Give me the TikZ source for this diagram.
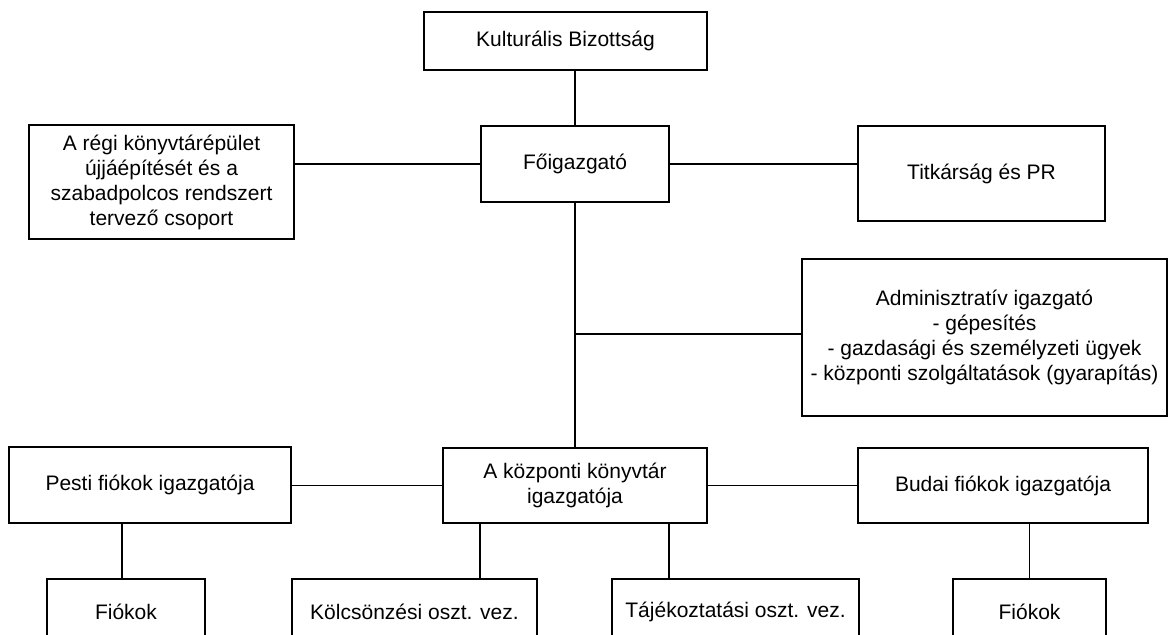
\documentclass[tikz,border=0pt]{standalone}
\usepackage{fontspec}
\setmainfont{Liberation Sans}
\begin{document}
\begin{tikzpicture}[x=1pt,y=-1pt,
  orgbox/.style={draw, line width=1.6pt, inner sep=0pt, align=center,
    font=\fontsize{21}{25}\selectfont},
  conn/.style={line width=1.6pt}]
\useasboundingbox (0,0) rectangle (1171,635);
\fill[white] (0,0) rectangle (1171,635);
% top rows
\node[orgbox, minimum width=283pt, minimum height=58pt] (kult) at (565.5,41) {Kulturális Bizottság};
\node[orgbox, minimum width=188pt, minimum height=76pt] (fo) at (575,164) {Főigazgató};
\node[orgbox, minimum width=265pt, minimum height=114pt] (regi) at (161.5,182)
  {A régi könyvtárépület\\újjáépítését és a\\szabadpolcos rendszert\\tervező csoport};
\node[orgbox, minimum width=247pt, minimum height=95pt] (titk) at (981.5,173.5) {Titkárság és PR};
\node[orgbox, minimum width=365pt, minimum height=157pt] (adm) at (984.5,337.5)
  {Adminisztratív igazgató\\- gépesítés\\- gazdasági és személyzeti ügyek\\- központi szolgáltatások (gyarapítás)};
% middle row
\node[orgbox, minimum width=282pt, minimum height=76pt] (pesti) at (150,485) {Pesti fiókok igazgatója};
\node[orgbox, minimum width=264pt, minimum height=75pt] (kozp) at (575,485.5) {A központi könyvtár\\igazgatója};
\node[orgbox, minimum width=290pt, minimum height=75pt] (budai) at (1003,485.5) {Budai fiókok igazgatója};
% bottom row
\node[orgbox, minimum width=158pt, minimum height=66pt] (fiok1) at (126,612) {Fiókok};
\node[orgbox, minimum width=245pt, minimum height=66pt] (kolcs) at (414.5,612) {Kölcsönzési oszt. vez.};
\node[orgbox, minimum width=247pt, minimum height=66pt] (tajek) at (735.5,612) {Tájékoztatási oszt. vez.};
\node[orgbox, minimum width=153pt, minimum height=66pt] (fiok2) at (1029.5,612) {Fiókok};
% connectors
\draw[conn] (fo.north) -- (fo.north |- kult.south);
\draw[conn] (fo.west) -- (fo.west -| regi.east);
\draw[conn] (fo.east) -- (fo.east -| titk.west);
\draw[conn] (fo.south) -- (kozp.north);
\draw[conn] ([yshift=3.5pt]adm.west) -- ([yshift=3.5pt]adm.west -| fo.south);
\draw[conn] (kozp.west) -- (kozp.west -| pesti.east);
\draw[conn] (kozp.east) -- (kozp.east -| budai.west);
\draw[conn] ([xshift=-4pt]fiok1.north) -- ([xshift=-4pt]fiok1.north |- pesti.south);
\draw[conn] ([xshift=-95pt]kozp.south) -- ([xshift=-95pt]kozp.south |- kolcs.north);
\draw[conn] ([xshift=94pt]kozp.south) -- ([xshift=94pt]kozp.south |- tajek.north);
\draw[conn] (fiok2.north) -- (fiok2.north |- budai.south);
\end{tikzpicture}
\end{document}
